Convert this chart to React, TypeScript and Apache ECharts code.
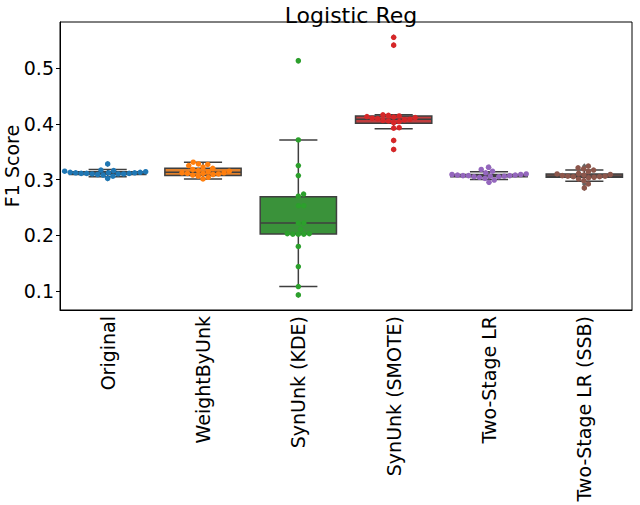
import React, { useEffect, useRef } from "react";
import * as echarts from "echarts";

const categories = ["Original", "WeightByUnk", "SynUnk (KDE)", "SynUnk (SMOTE)", "Two-Stage LR", "Two-Stage LR (SSB)"];
const pointColors = ["#1f77b4", "#ff7f0e", "#2ca02c", "#d62728", "#9467bd", "#8c564b"];
const boxColors = ["#3274a1", "#e1812c", "#3a923a", "#c03d3e", "#9372b2", "#845b53"];

const originalScores = [0.328, 0.317, 0.316, 0.315, 0.314, 0.313, 0.313, 0.312, 0.312, 0.312, 0.311, 0.311, 0.311, 0.310, 0.310, 0.310, 0.309, 0.308, 0.306, 0.302];
const weightScores = [0.331, 0.328, 0.327, 0.325, 0.322, 0.320, 0.318, 0.316, 0.315, 0.314, 0.312, 0.312, 0.311, 0.311, 0.310, 0.309, 0.308, 0.306, 0.304, 0.301];
const kdeScores = [0.513, 0.371, 0.325, 0.307, 0.274, 0.270, 0.253, 0.253, 0.222, 0.222, 0.211, 0.203, 0.203, 0.202, 0.202, 0.202, 0.180, 0.144, 0.108, 0.093];
const smoteScores = [0.555, 0.541, 0.416, 0.415, 0.414, 0.413, 0.412, 0.411, 0.410, 0.409, 0.408, 0.407, 0.406, 0.405, 0.404, 0.402, 0.393, 0.392, 0.370, 0.354];
const twoStageScores = [0.322, 0.318, 0.315, 0.312, 0.310, 0.309, 0.309, 0.308, 0.308, 0.307, 0.307, 0.307, 0.306, 0.306, 0.305, 0.305, 0.304, 0.302, 0.299, 0.295];
const twoStageSsbScores = [0.324, 0.321, 0.319, 0.317, 0.314, 0.311, 0.310, 0.309, 0.308, 0.307, 0.306, 0.306, 0.305, 0.305, 0.304, 0.303, 0.301, 0.298, 0.292, 0.285];
const allScores = [originalScores, weightScores, kdeScores, smoteScores, twoStageScores, twoStageSsbScores];

// [lower whisker, Q1, median, Q3, upper whisker]
const boxStats = [
  [0.305, 0.309, 0.311, 0.314, 0.318],
  [0.301, 0.307, 0.313, 0.320, 0.331],
  [0.108, 0.2025, 0.222, 0.269, 0.371],
  [0.391, 0.401, 0.408, 0.414, 0.416],
  [0.300, 0.305, 0.307, 0.309, 0.314],
  [0.297, 0.304, 0.306, 0.310, 0.317],
];
const outliers = [
  [0.328, 0.302],
  [],
  [0.513, 0.093],
  [0.555, 0.541, 0.370, 0.354],
  [0.322, 0.295],
  [0.324, 0.292, 0.285],
];

const yTicks = [0.1, 0.2, 0.3, 0.4, 0.5];
const Y_MIN = 0.066;
const Y_MAX = 0.5825;

const GRID = { left: 60, right: 8, top: 22, bottom: 195 };
const FONT = "DejaVu Sans";

function swarmOffsets(values: number[], pxPerUnit: number, d: number): number[] {
  const order = values.map((v, i) => i).sort((a, b) => values[a] - values[b]);
  const placed: { x: number; y: number }[] = [];
  const out = new Array(values.length).fill(0);
  const step = 0.25;
  for (const i of order) {
    const y = values[i] * pxPerUnit;
    let chosen = 0;
    for (let k = 0; k < 2000; k++) {
      const mag = Math.ceil(k / 2) * step;
      const x = k % 2 === 1 ? mag : -mag;
      let ok = true;
      for (const p of placed) {
        const dx = p.x - x;
        const dy = p.y - y;
        if (dx * dx + dy * dy < d * d - 0.01) { ok = false; break; }
      }
      if (ok) { chosen = x; break; }
    }
    placed.push({ x: chosen, y });
    out[i] = chosen;
  }
  return out;
}

export default function App() {
  const ref = useRef<HTMLDivElement>(null);
  useEffect(() => {
    if (!ref.current) return;
    document.body.style.margin = "0";
    const chart = echarts.init(ref.current, null, { renderer: "svg" });
    const plotH = 505 - GRID.top - GRID.bottom;
    const pxPerUnit = plotH / (Y_MAX - Y_MIN);
    const dotSize = 5.5;

    const boxData = boxStats.map((s, i) => [i, ...s]);

    const pointSeries = allScores.map((vals, gi) => {
      const offs = swarmOffsets(vals, pxPerUnit, dotSize);
      return {
        type: "scatter",
        z: 4,
        symbol: "circle",
        symbolSize: dotSize,
        itemStyle: { color: pointColors[gi], opacity: 1 },
        data: vals.map((v, j) => ({ value: [gi, v], symbolOffset: [offs[j], 0] })),
      };
    });

    const flierData: any[] = [];
    outliers.forEach((arr, gi) => arr.forEach((v) => flierData.push([gi, v])));

    chart.setOption({
      animation: false,
      title: {
        text: "Logistic Reg",
        left: 346,
        top: -1,
        textAlign: "center",
        textStyle: { fontFamily: FONT, fontSize: 22, fontWeight: "normal", color: "#000" },
      },
      grid: { ...GRID, outerBoundsMode: "none", containLabel: false, show: true, borderColor: "#000", borderWidth: 1, backgroundColor: "transparent" },
      xAxis: {
        type: "category",
        data: categories,
        boundaryGap: true,
        axisLine: { lineStyle: { color: "#000", width: 1 } },
        axisTick: { alignWithLabel: true, length: 4, lineStyle: { color: "#000" } },
        axisLabel: { rotate: 90, fontFamily: FONT, fontSize: 19, color: "#000", margin: 6, interval: 0 },
        splitLine: { show: false },
      },
      yAxis: {
        type: "value",
        min: Y_MIN,
        max: Y_MAX,
        name: "F1 Score",
        nameLocation: "middle",
        nameGap: 39,
        nameMoveOverlap: false,
        nameTextStyle: { fontFamily: FONT, fontSize: 19, color: "#000" },
        axisLine: { show: true, lineStyle: { color: "#000", width: 1 } },
        axisTick: { show: true, length: 4, lineStyle: { color: "#000" }, customValues: yTicks },
        axisLabel: { fontFamily: FONT, fontSize: 19, color: "#000", margin: 6, customValues: yTicks, formatter: (v: number) => v.toFixed(1) },
        splitLine: { show: false },
      },
      series: [
        {
          type: "custom",
          z: 2,
          data: boxData,
          encode: { x: 0, y: [1, 2, 3, 4, 5] },
          renderItem: (params: any, api: any) => {
            const idx = api.value(0);
            const lo = api.coord([idx, api.value(1)]);
            const q1 = api.coord([idx, api.value(2)]);
            const med = api.coord([idx, api.value(3)]);
            const q3 = api.coord([idx, api.value(4)]);
            const hi = api.coord([idx, api.value(5)]);
            const cw = api.size([1, 0])[0];
            const bw = cw * 0.8;
            const cx = med[0];
            const stroke = { stroke: "#3f3f3f", lineWidth: 1.5 };
            return {
              type: "group",
              children: [
                { type: "line", shape: { x1: cx, y1: q3[1], x2: cx, y2: hi[1] }, style: stroke },
                { type: "line", shape: { x1: cx, y1: q1[1], x2: cx, y2: lo[1] }, style: stroke },
                { type: "line", shape: { x1: cx - bw / 4, y1: hi[1], x2: cx + bw / 4, y2: hi[1] }, style: stroke },
                { type: "line", shape: { x1: cx - bw / 4, y1: lo[1], x2: cx + bw / 4, y2: lo[1] }, style: stroke },
                {
                  type: "rect",
                  shape: { x: cx - bw / 2, y: q3[1], width: bw, height: q1[1] - q3[1] },
                  style: { fill: boxColors[idx], stroke: "#3f3f3f", lineWidth: 1.5 },
                },
                { type: "line", shape: { x1: cx - bw / 2, y1: med[1], x2: cx + bw / 2, y2: med[1] }, style: stroke },
              ],
            };
          },
        },
        {
          type: "scatter",
          z: 3,
          symbol: "diamond",
          symbolSize: [5, 6],
          itemStyle: { color: "#3f3f3f" },
          data: flierData,
        },
        ...pointSeries,
      ],
    } as any);
    return () => chart.dispose();
  }, []);
  return <div ref={ref} style={{ width: 640, height: 505 }} />;
}
